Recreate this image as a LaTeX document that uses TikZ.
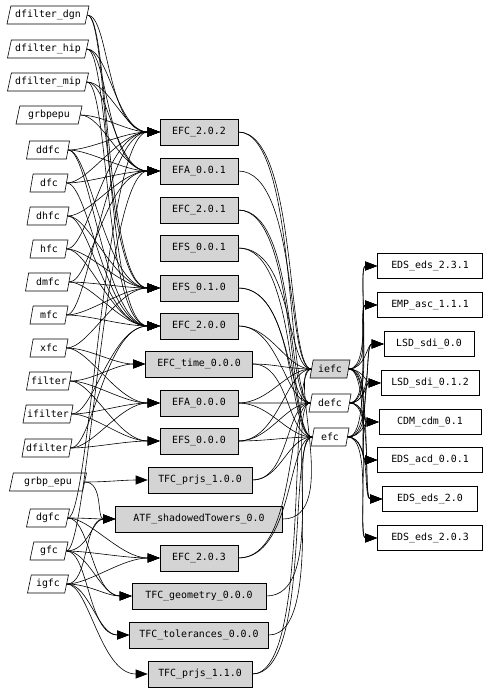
\documentclass[tikz,border=0pt]{standalone}
\usepackage{fontspec}
\setmonofont{DejaVu Sans Mono}
\usetikzlibrary{shapes.geometric,arrows.meta}
\definecolor{boxgray}{gray}{0.83}

\begin{document}
\begin{tikzpicture}[x=1pt, y=1pt, >={Triangle[length=12pt,width=9pt]},
  font=\ttfamily\fontsize{9.9}{11}\selectfont, line width=0.6pt,
  pkg/.style={draw, trapezium, trapezium left angle=72, trapezium right angle=108,
    trapezium stretches body, minimum height=18pt, minimum width=38pt, inner xsep=1pt, inner ysep=1pt},
  ver/.style={draw, fill=boxgray, rectangle, minimum height=26pt, minimum width=78pt, inner sep=1pt},
  lib/.style={draw, rectangle, minimum height=25pt, minimum width=105pt, inner sep=1pt},
  dep/.style={->, out=0, in=180, out max distance=22pt, in max distance=55pt},
  link/.style={out=0, in=180, out max distance=60pt, in max distance=25pt},
  req/.style={->, out=0, in=180, out max distance=25pt, in max distance=20pt}]
\useasboundingbox (0,0) rectangle (488,-690);

% packages
\node[pkg, minimum width=82pt] (dgn) at (48,-15) {dfilter\_dgn};
\node[pkg, minimum width=81pt] (hip) at (48,-49) {dfilter\_hip};
\node[pkg, minimum width=81pt] (mip) at (48,-82) {dfilter\_mip};
\node[pkg, minimum width=66pt] (grbpepu) at (49,-115) {grbpepu};
\node[pkg, minimum width=43pt] (ddfc) at (48,-150) {ddfc};
\node[pkg] (dfc) at (49,-183) {dfc};
\node[pkg, minimum width=42pt] (dhfc) at (48,-216) {dhfc};
\node[pkg] (hfc) at (49,-249) {hfc};
\node[pkg, minimum width=45pt] (dmfc) at (48,-282) {dmfc};
\node[pkg] (mfc) at (49,-315) {mfc};
\node[pkg] (xfc) at (49,-348) {xfc};
\node[pkg, minimum width=45pt] (filter) at (49,-381) {filter};
\node[pkg, minimum width=50pt] (ifilter) at (48,-414) {ifilter};
\node[pkg, minimum width=50pt] (dfilter) at (47,-448) {dfilter};
\node[pkg, minimum width=77pt] (gepu) at (48,-482) {grbp\_epu};
\node[pkg, minimum width=43pt] (dgfc) at (48,-518) {dgfc};
\node[pkg] (gfc) at (49,-551) {gfc};
\node[pkg, minimum width=41pt] (igfc) at (48,-584) {igfc};

% versions
\node[ver] (efc202) at (199,-132) {EFC\_2.0.2};
\node[ver] (efa001) at (199,-171) {EFA\_0.0.1};
\node[ver] (efc201) at (199,-210) {EFC\_2.0.1};
\node[ver] (efs001) at (199,-248) {EFS\_0.0.1};
\node[ver] (efs010) at (199,-288) {EFS\_0.1.0};
\node[ver] (efc200) at (199,-326) {EFC\_2.0.0};
\node[ver, minimum width=107pt] (efctime) at (199,-364) {EFC\_time\_0.0.0};
\node[ver] (efa000) at (199,-403) {EFA\_0.0.0};
\node[ver] (efs000) at (199,-441) {EFS\_0.0.0};
\node[ver, minimum width=104pt] (prjs100) at (200,-480) {TFC\_prjs\_1.0.0};
\node[ver, minimum width=167pt] (atf) at (199,-519) {ATF\_shadowedTowers\_0.0};
\node[ver] (efc203) at (199,-558) {EFC\_2.0.3};
\node[ver, minimum width=134pt] (geom) at (199,-596) {TFC\_geometry\_0.0.0};
\node[ver, minimum width=139pt] (tol) at (199,-635) {TFC\_tolerances\_0.0.0};
\node[ver, minimum width=104pt] (prjs110) at (200,-674) {TFC\_prjs\_1.1.0};

% middle packages
\node[pkg, fill=boxgray, minimum width=40pt] (iefc) at (330,-369) {iefc};
\node[pkg, minimum width=42pt] (defc) at (330,-403) {defc};
\node[pkg] (efc) at (330,-437) {efc};

% libraries
\node[lib] (eds231) at (430,-266) {EDS\_eds\_2.3.1};
\node[lib] (emp) at (430,-305) {EMP\_asc\_1.1.1};
\node[lib, minimum width=90pt] (sdi00) at (429,-344) {LSD\_sdi\_0.0};
\node[lib, minimum width=98pt] (sdi012) at (430,-383) {LSD\_sdi\_0.1.2};
\node[lib, minimum width=102pt] (cdm) at (430,-422) {CDM\_cdm\_0.1};
\node[lib] (acd) at (430,-460) {EDS\_acd\_0.0.1};
\node[lib, minimum width=95pt] (eds20) at (430,-499) {EDS\_eds\_2.0};
\node[lib] (eds203) at (430,-538) {EDS\_eds\_2.0.3};

% packages -> versions
\foreach \t in {efc202,efs010,efc200} \draw[dep] (dgn) to (\t);
\foreach \t in {efc202,efa001,efs010} \draw[dep] (hip) to (\t);
\foreach \t in {efc202,efa001,efc200} \draw[dep] (mip) to (\t);
\foreach \t in {efc202,efa001} \draw[dep] (grbpepu) to (\t);
\foreach \t in {efc202,efa001,efs010,efc200} \draw[dep] (ddfc) to (\t);
\foreach \t in {efc202,efa001,efc200} \draw[dep] (dfc) to (\t);
\foreach \t in {efa001,efs010,efc200} \draw[dep] (dhfc) to (\t);
\foreach \t in {efc202,efs010,efc200} \draw[dep] (hfc) to (\t);
\foreach \t in {efa001,efs010,efc200} \draw[dep] (dmfc) to (\t);
\foreach \t in {efc202,efs010,efc200} \draw[dep] (mfc) to (\t);
\foreach \t in {efctime,efa000,efs010} \draw[dep] (xfc) to (\t);
\foreach \t in {efctime,efa000,efs000} \draw[dep] (filter) to (\t);
\foreach \t in {efa000,efs000,efc200} \draw[dep] (ifilter) to (\t);
\foreach \t in {efa000,efs000,efc200} \draw[dep] (dfilter) to (\t);
\foreach \t in {prjs100,atf} \draw[dep] (gepu) to (\t);
\foreach \t in {atf,efc203,geom,efc202} \draw[dep] (dgfc) to (\t);
\foreach \t in {atf,efc203,geom,tol,efa001} \draw[dep] (gfc) to (\t);
\foreach \t in {efc203,geom,tol,prjs110,atf} \draw[dep] (igfc) to (\t);

% versions -- middle packages
\foreach \s/\t in {efc202/iefc, efc202/defc, efa001/iefc, efc201/defc, efc201/efc,
  efs001/iefc, efs001/efc, efs010/defc, efs010/efc, efc200/iefc, efc200/defc,
  efctime/iefc, efctime/efc, efa000/iefc, efa000/defc, efa000/efc,
  efs000/iefc, efs000/defc, efs000/efc, prjs100/defc, prjs100/efc, atf/iefc,
  efc203/defc, efc203/efc, geom/efc, tol/defc, prjs110/iefc, prjs110/efc}
  \draw[link] (\s) to (\t);

% middle packages -> libraries
\foreach \t in {eds231,emp,sdi00,sdi012,cdm,acd,eds20,eds203} \draw[req] (iefc) to (\t);
\foreach \t in {eds231,emp,sdi00,sdi012,cdm,acd,eds20} \draw[req] (defc) to (\t);
\foreach \t in {emp,sdi00,sdi012,cdm,acd,eds20,eds203} \draw[req] (efc) to (\t);
\end{tikzpicture}
\end{document}
